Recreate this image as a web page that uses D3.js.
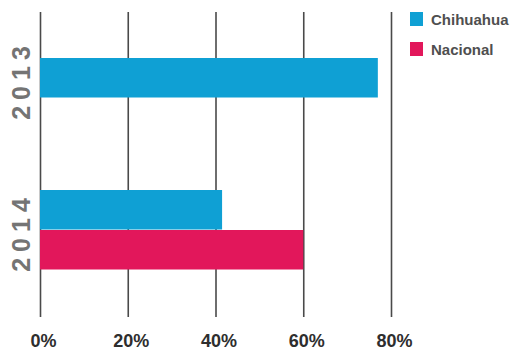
<!DOCTYPE html>
<html><head><meta charset="utf-8">
<script src="https://cdn.jsdelivr.net/npm/d3@7"></script>
<style>
html,body{margin:0;padding:0;background:#fff;}
svg{display:block;}
</style></head>
<body><svg id="c" width="512" height="351"></svg>
<script>
const years = ["2013", "2014"];
const seriesNames = ["Chihuahua", "Nacional"];
const chihuahua = [77, 41.5];
const nacional = [null, 60];
const ticks = [0, 20, 40, 60, 80];
const colors = ["#0fa0d4", "#e2175b"];

const svg = d3.select("#c");
const x = d3.scaleLinear().domain([0, 80]).range([40, 391]);
const yYear = d3.scaleBand().domain(years).range([58, 322]).paddingInner(0).paddingOuter(0);
const ySer = d3.scaleBand().domain(seriesNames).range([0, 80]);

// grid lines via axis
const axis = d3.axisBottom(x).tickValues(ticks).tickFormat(d => d + "%").tickSize(-(317 - 12)).tickPadding(0);
const gx = svg.append("g").attr("transform", "translate(0,317)").call(axis);
gx.select(".domain").remove();
gx.selectAll(".tick line").attr("stroke", "#4a4a4a").attr("stroke-width", 1.6);
gx.selectAll(".tick text")
  .attr("y", 30).attr("dy", 0).attr("dx", 3)
  .attr("fill", "#2e2e2e")
  .style("font-family", "'Liberation Sans', Arial, sans-serif")
  .style("font-weight", "bold")
  .style("font-size", "18px");

// bars
const data = [];
years.forEach((yr, i) => {
  [chihuahua, nacional].forEach((arr, j) => {
    if (arr[i] != null) data.push({year: yr, series: seriesNames[j], value: arr[i], color: colors[j]});
  });
});
svg.append("g").selectAll("rect").data(data).join("rect")
  .attr("x", x(0))
  .attr("y", d => yYear(d.year) + ySer(d.series))
  .attr("width", d => x(d.value) - x(0))
  .attr("height", ySer.bandwidth() - 0.5)
  .attr("fill", d => d.color);

// year labels centered on present bars
years.forEach(yr => {
  const bars = data.filter(d => d.year === yr);
  const top = d3.min(bars, d => yYear(d.year) + ySer(d.series));
  const bot = d3.max(bars, d => yYear(d.year) + ySer(d.series) + ySer.bandwidth());
  const cy = (top + bot) / 2 + 2;
  svg.append("text")
    .attr("transform", `translate(30,${cy}) rotate(-90)`)
    .attr("text-anchor", "middle")
    .attr("fill", "#747474")
    .style("font-family", "'Liberation Sans', Arial, sans-serif")
    .style("font-weight", "bold")
    .style("font-size", "25px")
    .style("letter-spacing", "6px")
    .text(yr);
});

// legend
const leg = svg.append("g").attr("transform", "translate(410,12)");
seriesNames.forEach((s, i) => {
  const g = leg.append("g").attr("transform", `translate(0,${i * 30})`);
  g.append("rect").attr("width", 13).attr("height", 14).attr("fill", colors[i]);
  g.append("text").attr("x", 21).attr("y", 13)
    .attr("fill", "#4f4f4f")
    .style("font-family", "'Liberation Sans', Arial, sans-serif")
    .style("font-weight", "bold")
    .style("font-size", "15px")
    .text(s);
});
</script></body></html>
